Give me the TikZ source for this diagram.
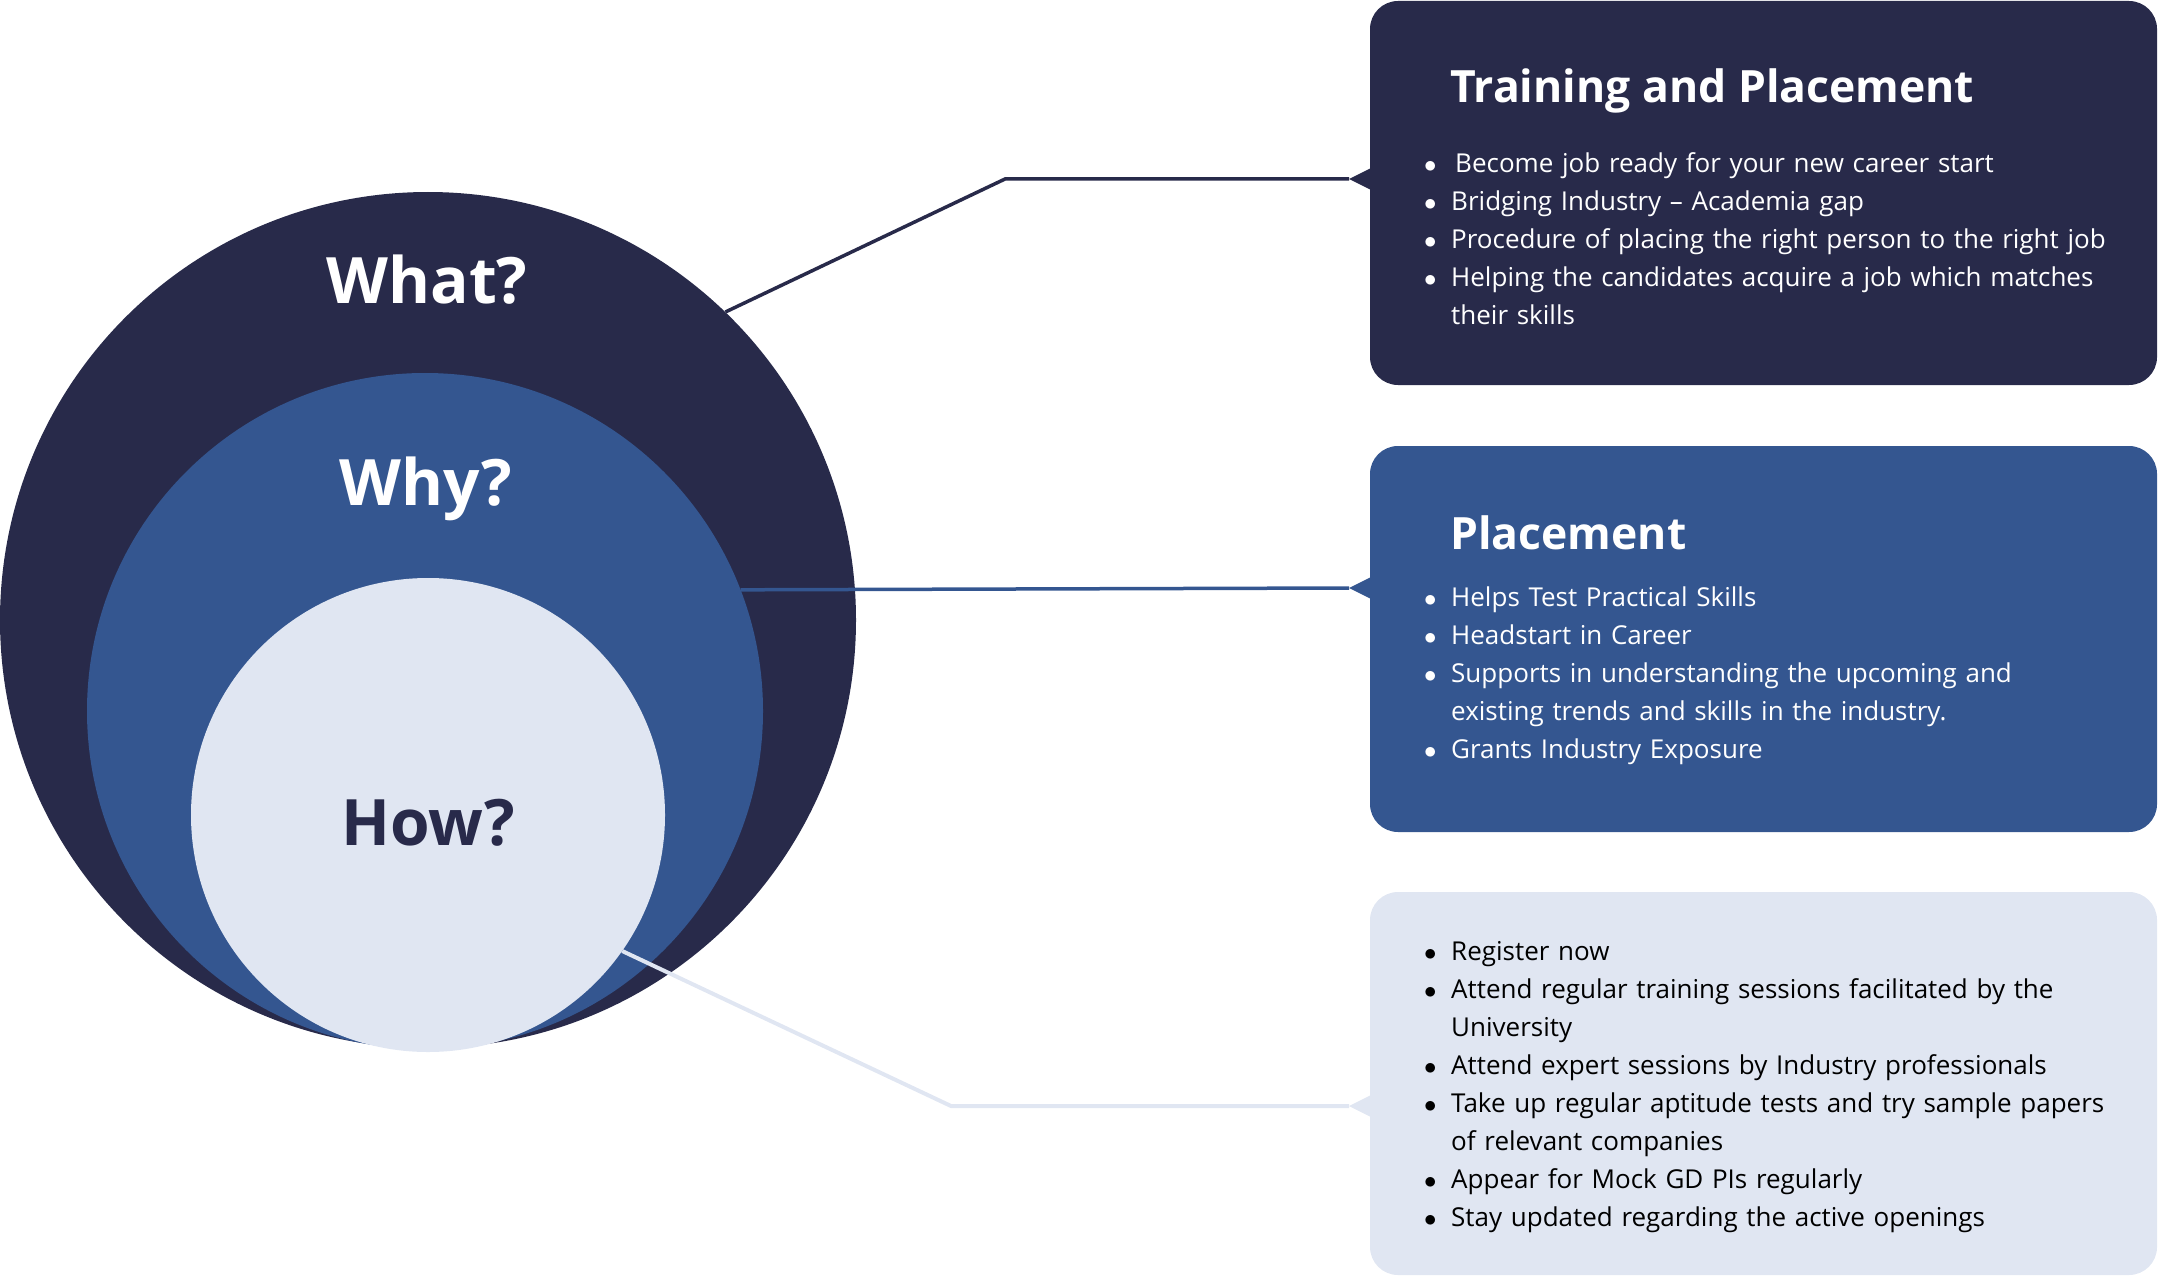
\documentclass[tikz,border=0pt]{standalone}
\usepackage{fontspec}
\setmainfont{Open Sans}
\definecolor{navy}{HTML}{282A4A}
\definecolor{steel}{HTML}{345690}
\definecolor{mist}{HTML}{E0E6F2}
\newcommand{\bul}{\par\hangindent=27pt\hangafter=1\noindent\strut\makebox[27pt][l]{$\bullet$}}
\newcommand{\brk}{\hfil\break}

\begin{document}
\begin{tikzpicture}[
    x=1pt, y=-1pt,
    ring/.style={circle, inner sep=0pt},
    ringLabel/.style={font=\fontsize{64}{64}\selectfont\bfseries, anchor=base, inner sep=0pt},
    card/.style={rectangle, rounded corners=28pt, inner sep=0pt, minimum width=787pt},
    cardTitle/.style={font=\fontsize{44.5}{50}\selectfont\bfseries, anchor=base west, inner sep=0pt},
    cardList/.style={font=\fontsize{26}{38}\selectfont, anchor=north west, inner sep=0pt,
        text width=760pt, align=left},
    link/.style={line width=3.5pt}
]
    \useasboundingbox (0,0) rectangle (2159,1276);

    % --- circles ---
    \node[ring, fill=navy, minimum size=856pt] (what) at (428,620) {};
    \node[ring, fill=steel, minimum size=676pt] (why) at (425,711) {};
    \node[ring, fill=mist, minimum size=474pt] (how) at (428,815) {};

    \node[ringLabel, white] (whatText) at (427,303) {What?};
    \node[ringLabel, white] (whyText) at (426,505) {Why?};
    \node[ringLabel, navy] (howText) at (428,845) {How?};

    % --- connectors ---
    \coordinate (bendA) at (1005,179);
    \coordinate (tipA) at (1349,179);
    \coordinate (tipB) at (1349,588);
    \coordinate (bendC) at (951,1106);
    \coordinate (tipC) at (1349,1106);

    \draw[link, navy] (what.46.5) -- (bendA) -- (tipA);
    \draw[link, steel] (why.21.3) -- (tipB);
    \draw[link, mist, line width=4pt] (how.-35.5) -- (bendC) -- (tipC);

    % --- cards ---
    \node[card, fill=navy, minimum height=384pt] (trainCard) at (1763.5,193) {};
    \node[card, fill=steel, minimum height=386pt] (placeCard) at (1763.5,639) {};
    \node[card, fill=mist, minimum height=383pt] (howCard) at (1763.5,1083.5) {};

    \foreach \t/\c in {tipA/navy, tipB/steel, tipC/mist}
        \fill[\c] (\t) -- ([shift={(24,-12)}]\t) -- ([shift={(24,12)}]\t) -- cycle;

    % --- 1. Training and Placement ---
    \node[cardTitle, white] (trainTitle) at (1450,103) {Training and Placement};
    \node[cardList, white] (trainList) at (1424,134.4) {%
        \bul\hspace{4pt}Become job ready for your new career start
        \bul Bridging Industry – Academia gap
        \bul Procedure of placing the right person to the right job
        \bul Helping the candidates acquire a job which matches\brk their skills\par};

    % --- 2. Placement ---
    \node[cardTitle, white] (placeTitle) at (1450,549) {Placement};
    \node[cardList, white] (placeList) at (1424,568.4) {%
        \bul Helps Test Practical Skills
        \bul Headstart in Career
        \bul Supports in understanding the upcoming and\brk existing trends and skills in the industry.
        \bul Grants Industry Exposure\par};

    % --- 3. How ---
    \node[cardList, black] (howList) at (1424,922.4) {%
        \bul Register now
        \bul Attend regular training sessions facilitated by the\brk University
        \bul Attend expert sessions by Industry professionals
        \bul Take up regular aptitude tests and try sample papers\brk of relevant companies
        \bul Appear for Mock GD PIs regularly
        \bul Stay updated regarding the active openings\par};
\end{tikzpicture}
\end{document}
